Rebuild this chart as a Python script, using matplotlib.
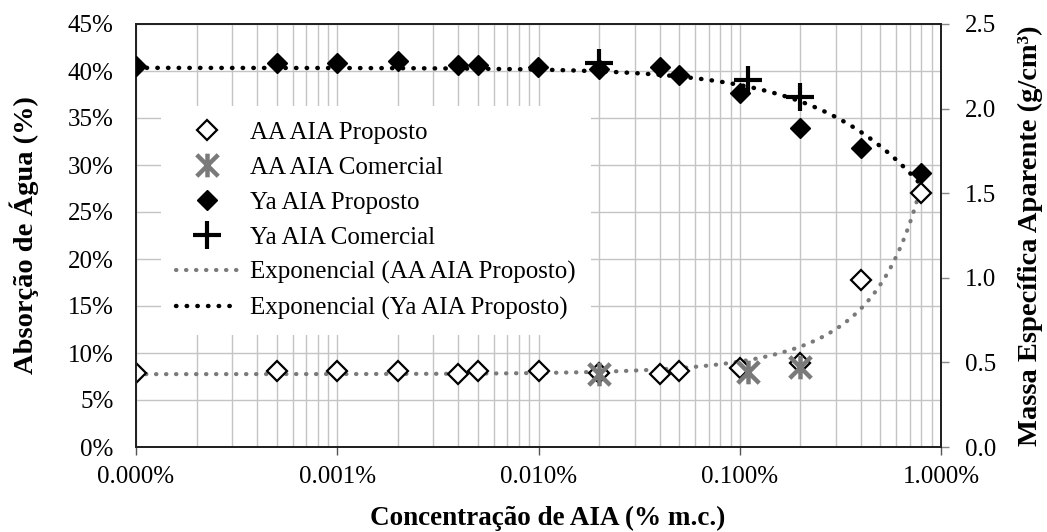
import numpy as np
import matplotlib
matplotlib.use("Agg")
import matplotlib.pyplot as plt
from matplotlib.path import Path
from matplotlib.ticker import FuncFormatter, LogLocator, NullFormatter

plt.rcParams['font.family'] = ['Liberation Serif', 'DejaVu Serif']

# ---- data (concentration in % m.c.; 0 plotted at axis minimum 0.0001) ----
aa_prop_x = [0.0001, 0.0005, 0.001, 0.002, 0.004, 0.005, 0.01, 0.02, 0.04, 0.05, 0.1, 0.2, 0.4, 0.8]
aa_prop_y = [7.9, 8.1, 8.1, 8.1, 7.8, 8.1, 8.1, 7.9, 7.8, 8.1, 8.4, 8.9, 17.8, 27.0]

aa_com_x = [0.02, 0.11, 0.2]
aa_com_y = [7.8, 8.0, 8.5]

ya_prop_x = [0.0001, 0.0005, 0.001, 0.002, 0.004, 0.005, 0.01, 0.02, 0.04, 0.05, 0.1, 0.2, 0.4, 0.8]
ya_prop_y = [2.25, 2.27, 2.27, 2.28, 2.26, 2.26, 2.245, 2.235, 2.245, 2.20, 2.09, 1.885, 1.77, 1.62]

ya_com_x = [0.02, 0.11, 0.2]
ya_com_y = [2.27, 2.17, 2.07]

x_ticks = [0.0001, 0.001, 0.01, 0.1, 1.0]
left_ticks = [0, 5, 10, 15, 20, 25, 30, 35, 40, 45]
right_ticks = [0.0, 0.5, 1.0, 1.5, 2.0, 2.5]

labels = ["AA AIA Proposto", "AA AIA Comercial", "Ya AIA Proposto", "Ya AIA Comercial",
          "Exponencial (AA AIA Proposto)", "Exponencial (Ya AIA Proposto)"]

# ---- exponential trendlines (least squares in log space, like Excel) ----
b_aa, la_aa = np.polyfit(aa_prop_x, np.log(aa_prop_y), 1)
b_ya, la_ya = np.polyfit(ya_prop_x, np.log(ya_prop_y), 1)
xt = np.logspace(-4, np.log10(0.8), 400)
aa_trend = np.exp(la_aa) * np.exp(b_aa * xt)
ya_trend = np.exp(la_ya) * np.exp(b_ya * xt)

# custom Excel-like star marker (X + vertical bar)
star = Path([(-1, -1), (1, 1), (-1, 1), (1, -1), (0, -1.1), (0, 1.1)],
            [Path.MOVETO, Path.LINETO, Path.MOVETO, Path.LINETO, Path.MOVETO, Path.LINETO])

W, H = 1047, 532
fig = plt.figure(figsize=(W / 100, H / 100), dpi=100)
ax = fig.add_axes([136 / W, 85 / H, 805 / W, 423 / H])
ax2 = ax.twinx()

ax.set_xscale('log')
ax.set_xlim(0.0001, 1.0)
ax.set_ylim(0, 45)
ax2.set_ylim(0, 2.5)

grid_c = '#c4c4c4'
ax.xaxis.set_minor_locator(LogLocator(base=10, subs=np.arange(2, 10), numticks=20))
ax.xaxis.set_minor_formatter(NullFormatter())
ax.set_xticks(x_ticks)
ax.xaxis.set_major_formatter(FuncFormatter(lambda v, p: f"{v:.3f}%"))
ax.grid(True, which='both', axis='x', color=grid_c, lw=1.0)
ax.set_yticks(left_ticks)
ax.yaxis.set_major_formatter(FuncFormatter(lambda v, p: f"{v:.0f}%"))
ax.grid(True, which='major', axis='y', color=grid_c, lw=1.0)
ax.set_axisbelow(True)

ax2.set_yticks(right_ticks)
ax2.yaxis.set_major_formatter(FuncFormatter(lambda v, p: f"{v:.1f}"))

ax.tick_params(axis='x', which='major', length=6, width=1, color='#555555', labelsize=18, pad=8)
ax.tick_params(axis='x', which='minor', length=0)
ax.tick_params(axis='y', length=0, labelsize=18, pad=16)
ax2.tick_params(axis='y', length=6, width=1, color='#888888', labelsize=18, pad=11)

for s in ax.spines.values():
    s.set_color('#222222'); s.set_linewidth(1.4)
for s in ax2.spines.values():
    s.set_color('#222222'); s.set_linewidth(1.4)

dots = (0, (0.1, 2.3))
h_aat, = ax.plot(xt, aa_trend, color='#7a7a7a', lw=3, linestyle=dots, dash_capstyle='round', zorder=3)
h_aap, = ax.plot(aa_prop_x, aa_prop_y, linestyle='none', marker='D', ms=10, mfc='white',
                 mec='black', mew=1.6, zorder=4)
h_aac, = ax.plot(aa_com_x, aa_com_y, linestyle='none', marker=star, ms=17, mec='#7a7a7a',
                 mfc='none', mew=3.2, zorder=5)

h_yat, = ax2.plot(xt, ya_trend, color='black', lw=3.2, linestyle=dots, dash_capstyle='round', zorder=3)
h_yap, = ax2.plot(ya_prop_x, ya_prop_y, linestyle='none', marker='D', ms=10, mfc='black',
                  mec='black', mew=1, zorder=4)
h_yac, = ax2.plot(ya_com_x, ya_com_y, linestyle='none', marker='+', ms=20, mec='black',
                  mew=3, zorder=5)

ax.set_xlabel("Concentração de AIA (% m.c.)", fontsize=19.5, fontweight='bold')
ax.xaxis.set_label_coords(0.512, -0.140)
ax.set_ylabel("Absorção de Água (%)", fontsize=20.5, fontweight='bold', labelpad=21)
ax2.set_ylabel("Massa Específica Aparente (g/cm³)", fontsize=20.5, fontweight='bold', labelpad=16)

leg = ax2.legend([h_aap, h_aac, h_yap, h_yac, h_aat, h_yat], labels,
                 loc='upper left', bbox_to_anchor=(25 / 805, 1 - 82 / 423),
                 fontsize=18, frameon=True, framealpha=1.0, edgecolor='none', facecolor='white',
                 fancybox=False, handlelength=2.5, handletextpad=0.48, labelspacing=0.5,
                 borderpad=0.6, borderaxespad=0)
leg.set_zorder(10)

fig.savefig("out.png", dpi=100)
